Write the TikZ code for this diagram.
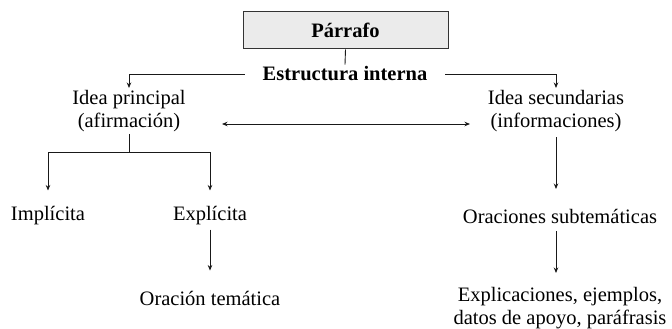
\documentclass[tikz,border=0pt]{standalone}
\usepackage{fontspec}
\setmainfont{Liberation Serif}
\usetikzlibrary{arrows.meta}
\begin{document}
\begin{tikzpicture}[x=1pt,y=-1pt,
  txt/.style={font=\fontsize{20.5}{23}\selectfont, align=center, inner sep=2pt},
  boxnode/.style={txt, draw=black!80, fill=black!8, line width=1pt, minimum width=205pt, minimum height=37pt},
  conn/.style={line width=0.9pt, draw=black!90},
  arr/.style={conn, -{Stealth[length=5.5pt,width=4.5pt]}},
  darr/.style={conn, {Stealth[length=5.5pt,width=4.5pt]}-{Stealth[length=5.5pt,width=4.5pt]}}]
\useasboundingbox (0,0) rectangle (672,329);
\node[boxnode] (parrafo) at (345.5,30.5) {\textbf{Párrafo}};
\node[txt, inner xsep=18pt] (estr) at (345,74) {\textbf{Estructura interna}};
\node[txt] (ip) at (129,111) {Idea principal\\(afirmación)};
\node[txt] (is) at (556,111) {Idea secundarias\\(informaciones)};
\node[txt] (impl) at (48,216) {Implícita};
\node[txt] (expl) at (210,216) {Explícita};
\node[txt] (ot) at (210,298) {Oración temática};
\node[txt] (os) at (560,216) {Oraciones subtemáticas};
\node[txt] (ex) at (560,308.5) {Explicaciones, ejemplos,\\datos de apoyo, paráfrasis};
\coordinate (jn) at (129,152);
\coordinate (da) at (222,124);
\coordinate (db) at (470,124);
\coordinate (r1) at (556,137);
\coordinate (r2) at (556,189);
\coordinate (r3) at (556,231);
\coordinate (r4) at (556,273);
\draw[conn] (parrafo.south) -- (estr.north);
\draw[arr] (estr.west) -| (ip.north);
\draw[arr] (estr.east) -| (is.north);
\draw[darr] (da) -- (db);
\draw[conn] (ip.south) -- (jn);
\draw[arr, shorten >=14pt] (jn) -| (impl.north);
\draw[arr, shorten >=14pt] (jn) -| (expl.north);
\draw[arr, shorten <=2pt, shorten >=18pt] (expl.south) -- (ot.north);
\draw[arr] (r1) -- (r2);
\draw[arr] (r3) -- (r4);
\end{tikzpicture}
\end{document}
